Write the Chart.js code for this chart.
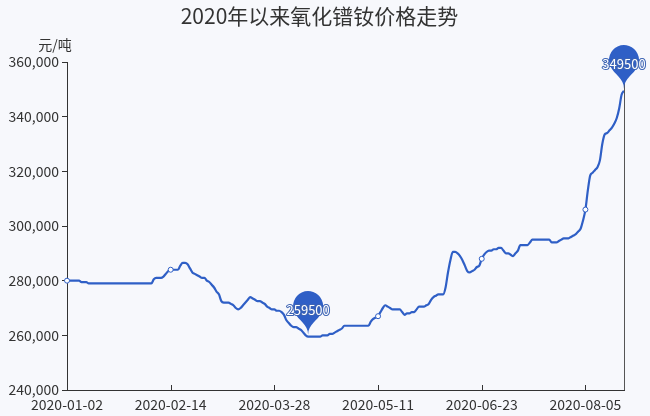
<!DOCTYPE html>
<html>
<head>
<meta charset="utf-8">
<script src="https://cdn.jsdelivr.net/npm/chart.js@4.4.1/dist/chart.umd.min.js"></script>
<style>
html,body{margin:0;padding:0;background:#f7f8fc;}
#wrap{width:650px;height:416px;}
</style>
</head>
<body>
<div id="wrap"><canvas id="c" width="650" height="416"></canvas></div>
<script>
const chartTitle = '2020年以来氧化镨钕价格走势';
const yAxisName = '元/吨';
const startDate = '2020-01-02';
const endDate = '2020-08-21';
const missingDates = ['2020-04-04'];
const xTickLabels = ['2020-01-02', '2020-02-14', '2020-03-28', '2020-05-11', '2020-06-23', '2020-08-05'];
const symbolDates = ['2020-01-02', '2020-02-14', '2020-05-11', '2020-06-23', '2020-08-05'];
const yTickValues = [240000, 260000, 280000, 300000, 320000, 340000, 360000];
const prices = [
  280000,280000,280000,280000,280000,280000,279500,279500,279500,279000,
  279000,279000,279000,279000,279000,279000,279000,279000,279000,279000,
  279000,279000,279000,279000,279000,279000,279000,279000,279000,279000,
  279000,279000,279000,279000,279000,279000,280500,281000,281000,281000,
  281500,282500,283500,284000,284000,284000,284000,285500,286500,286500,
  286000,284500,283000,282500,282000,281500,281000,281000,280000,279500,
  278500,277500,276000,275000,272500,272000,272000,272000,271500,271000,
  270000,269500,270000,271000,272000,273000,274000,273500,273000,272500,
  272500,272000,271500,270500,270000,269500,269500,269000,269000,268500,
  267500,265500,264500,263500,263000,263000,262500,262000,261000,260000,
  259500,259500,259500,259500,259500,259500,260000,260000,260000,260500,
  260500,261000,261500,262000,262500,263500,263500,263500,263500,263500,
  263500,263500,263500,263500,263500,263500,265000,266000,266500,267000,
  268500,270000,271000,270500,270000,269500,269500,269500,269500,268500,
  267500,268000,268000,268500,268500,269500,270500,270500,270500,271000,
  271500,273000,274000,274500,275000,275000,275000,277500,283000,287500,
  290500,290500,290000,289000,287500,285500,283500,283000,283500,284000,
  285000,285500,288000,289500,290500,291000,291000,291500,291500,292000,
  292000,291000,290000,290000,289500,289000,290000,291000,293000,293000,
  293000,293000,294000,295000,295000,295000,295000,295000,295000,295000,
  295000,294000,294000,294000,294500,295000,295500,295500,295500,296000,
  296500,297000,298000,299000,302000,306000,313000,318500,319500,320500,
  321500,324000,330000,333500,334000,335000,336000,337500,339500,343000,
  348000,349500
];

// category labels: consecutive calendar days, minus the missing ones
const dates = [];
for (let d = new Date(startDate + 'T00:00:00Z'); d <= new Date(endDate + 'T00:00:00Z'); d.setUTCDate(d.getUTCDate() + 1)) {
  const s = d.toISOString().slice(0, 10);
  if (!missingDates.includes(s)) dates.push(s);
}

const FONT = "'Noto Sans CJK SC', 'Microsoft YaHei', sans-serif";
const LINE = '#2f5fc6';
const AXIS = '#333';

function drawPin(ctx, x, tipY, label) {
  const size = 50;
  const w = size / 5 * 3;
  const h = size;
  const r = w / 2;
  const dy = r * r / (h - r);
  const cy = tipY - h + r + dy;
  const angle = Math.asin(dy / r);
  const dx = Math.cos(angle) * r;
  const tanX = Math.sin(angle);
  const tanY = Math.cos(angle);
  const cpLen = r * 0.6;
  const cpLen2 = r * 0.7;
  ctx.save();
  ctx.beginPath();
  ctx.moveTo(x - dx, cy + dy);
  ctx.arc(x, cy, r, Math.PI - angle, Math.PI * 2 + angle);
  ctx.bezierCurveTo(x + dx - tanX * cpLen, cy + dy + tanY * cpLen, x, tipY - cpLen2, x, tipY);
  ctx.bezierCurveTo(x, tipY - cpLen2, x - dx + tanX * cpLen, cy + dy + tanY * cpLen, x - dx, cy + dy);
  ctx.closePath();
  ctx.fillStyle = LINE;
  ctx.fill();
  ctx.font = '13px ' + FONT;
  ctx.textAlign = 'center';
  ctx.textBaseline = 'middle';
  ctx.lineJoin = 'round';
  ctx.lineWidth = 2;
  ctx.strokeStyle = '#3d64b4';
  ctx.strokeText(label, x, tipY - h / 2);
  ctx.fillStyle = '#ffffff';
  ctx.fillText(label, x, tipY - h / 2);
  ctx.restore();
}

const decorPlugin = {
  id: 'decor',
  beforeDraw(chart) {
    const ctx = chart.ctx;
    ctx.save();
    ctx.fillStyle = '#f7f8fc';
    ctx.fillRect(0, 0, chart.width, chart.height);
    ctx.restore();
  },
  afterDraw(chart) {
    const ctx = chart.ctx;
    const xs = chart.scales.x, ys = chart.scales.y;
    const area = chart.chartArea;
    ctx.save();
    // inward ticks on the x axis
    ctx.strokeStyle = AXIS;
    ctx.lineWidth = 1;
    xs.ticks.forEach(t => {
      const x = Math.round(xs.getPixelForValue(t.value)) + 0.5;
      ctx.beginPath();
      ctx.moveTo(x, area.bottom);
      ctx.lineTo(x, area.bottom - 5);
      ctx.stroke();
    });
    // axis name
    ctx.fillStyle = AXIS;
    ctx.font = '14px ' + FONT;
    ctx.textAlign = 'center';
    ctx.textBaseline = 'middle';
    ctx.fillText(yAxisName, area.left - 12, area.top - 17);
    ctx.restore();

    const maxV = Math.max(...prices), minV = Math.min(...prices);
    const iMax = prices.indexOf(maxV), iMin = prices.indexOf(minV);
    const pMaxX = xs.getPixelForValue(iMax), pMaxY = ys.getPixelForValue(maxV);
    const pMinX = xs.getPixelForValue(iMin), pMinY = ys.getPixelForValue(minV);
    // vertical line at the right edge
    ctx.save();
    ctx.strokeStyle = '#555';
    ctx.lineWidth = 1;
    const rx = Math.round(area.right) + 0.5;
    ctx.beginPath();
    ctx.moveTo(rx, pMaxY - 30);
    ctx.lineTo(rx, area.bottom);
    ctx.stroke();
    ctx.restore();
    drawPin(ctx, pMinX, pMinY - 2, String(minV));
    drawPin(ctx, pMaxX, pMaxY - 2, String(maxV));
  }
};

new Chart(document.getElementById('c'), {
  type: 'line',
  data: {
    labels: dates,
    datasets: [{
      data: prices,
      borderColor: LINE,
      borderWidth: 2.2,
      fill: false,
      cubicInterpolationMode: 'monotone',
      pointRadius: c => symbolDates.includes(dates[c.dataIndex]) ? 2.5 : 0,
      pointHoverRadius: 0,
      pointBackgroundColor: '#ffffff',
      pointBorderColor: LINE,
      pointBorderWidth: 1,
      yAxisID: 'y'
    }]
  },
  options: {
    responsive: false,
    animation: false,
    events: [],
    layout: { padding: { left: 0, right: 11, top: 0, bottom: 0 } },
    plugins: {
      legend: { display: false },
      tooltip: { enabled: false },
      title: {
        display: true,
        text: chartTitle,
        color: AXIS,
        font: { family: FONT, size: 21, weight: 'normal' },
        padding: { top: 3, bottom: 33.8 }
      }
    },
    scales: {
      x: {
        type: 'category',
        offset: false,
        grid: { display: false, drawTicks: false },
        border: { display: true, color: AXIS, width: 1 },
        ticks: { autoSkip: false, maxRotation: 0, color: AXIS, font: { family: FONT, size: 14 }, padding: 6 },
        afterBuildTicks: s => { s.ticks = s.ticks.filter(t => xTickLabels.includes(dates[t.value])); },
        afterFit: s => { s.height = 26; }
      },
      y: {
        position: 'left',
        min: yTickValues[0],
        max: yTickValues[yTickValues.length - 1],
        grid: { drawOnChartArea: false, drawTicks: true, tickLength: 5, color: AXIS },
        border: { display: true, color: AXIS, width: 1 },
        ticks: { color: AXIS, font: { family: FONT, size: 14 }, padding: 3, callback: v => v.toLocaleString('en-US') },
        afterBuildTicks: s => { s.ticks = yTickValues.map(v => ({ value: v })); },
        afterFit: s => { s.width = 67; }
      },
      yRight: {
        position: 'right',
        display: true,
        min: yTickValues[0],
        max: yTickValues[yTickValues.length - 1],
        grid: { display: false, drawTicks: false },
        border: { display: false },
        ticks: { display: false },
        afterFit: s => { s.width = 15; }
      }
    }
  },
  plugins: [decorPlugin]
});
</script>
</body>
</html>
